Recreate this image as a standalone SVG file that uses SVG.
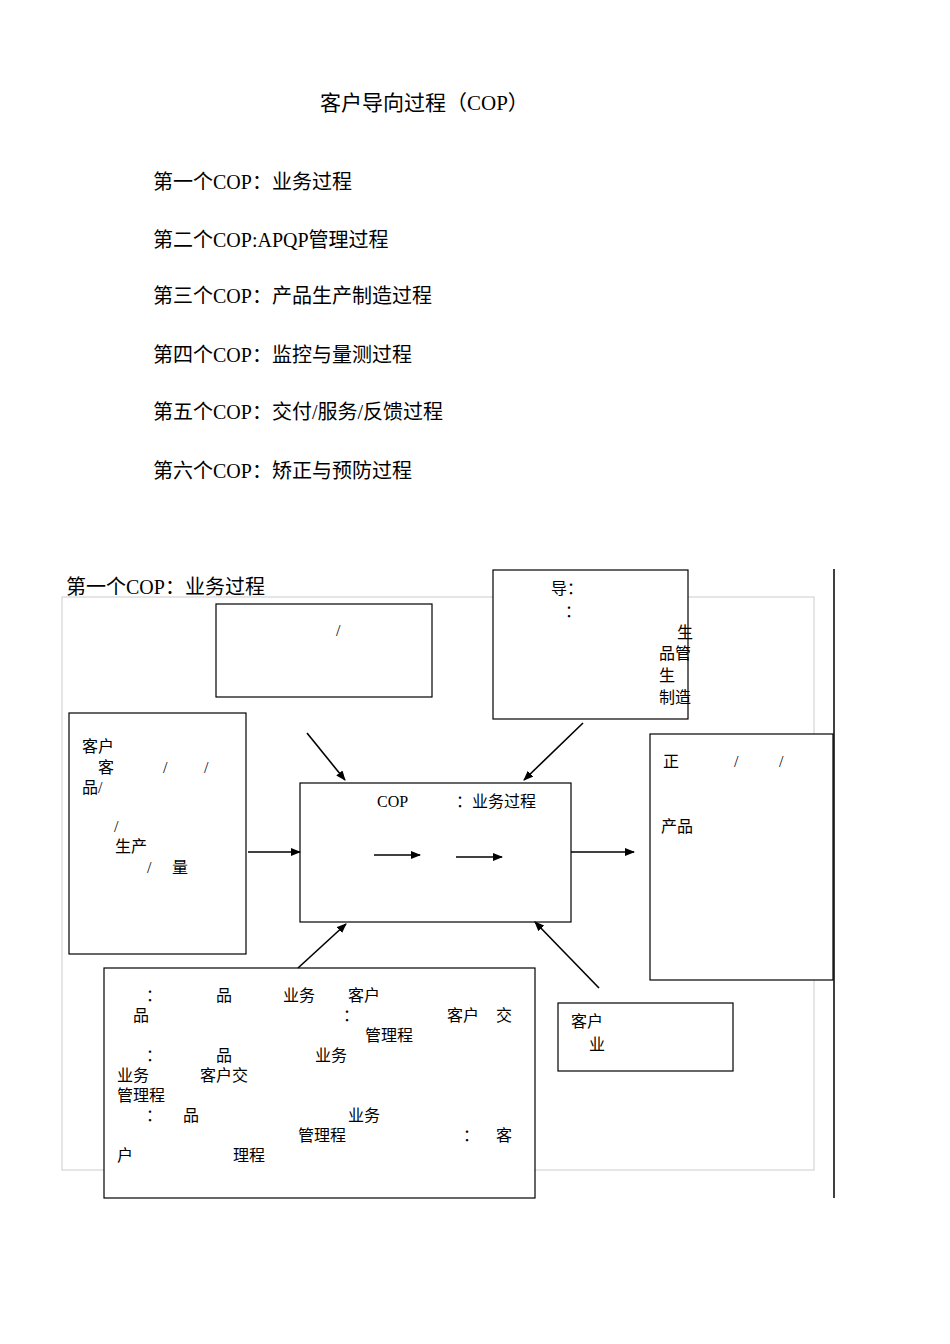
<svg xmlns="http://www.w3.org/2000/svg" width="950" height="1344" viewBox="0 0 950 1344">
<style>
text{font-family:"Liberation Serif","Noto Sans CJK SC",serif;fill:#000}
.h{font-size:20px}
.t{font-size:16px}
.b{fill:#fff;stroke:#000;stroke-width:1.2}
.c line{stroke:#000;stroke-width:1.6}
</style>
<defs><marker id="a" markerWidth="10" markerHeight="8" refX="9" refY="4" orient="auto" markerUnits="userSpaceOnUse"><path d="M0,0L10,4L0,8z"/></marker></defs>
<rect width="950" height="1344" fill="#fff"/>
<text class="h" x="320" y="110" style="font-size:21px">客户导向过程（COP）</text>
<text class="h" x="153" y="189">第一个COP：业务过程</text>
<text class="h" x="153" y="247">第二个COP:APQP管理过程</text>
<text class="h" x="153" y="303">第三个COP：产品生产制造过程</text>
<text class="h" x="153" y="362">第四个COP：监控与量测过程</text>
<text class="h" x="153" y="419">第五个COP：交付/服务/反馈过程</text>
<text class="h" x="153" y="478">第六个COP：矫正与预防过程</text>
<rect x="62" y="597" width="752" height="573" fill="none" stroke="#ccc"/>
<line x1="834" y1="569" x2="834" y2="1198" stroke="#000" stroke-width="1.5"/>
<text class="h" x="66" y="594">第一个COP：业务过程</text>
<g id="n1"><rect class="b" x="216" y="604" width="216" height="93"/><text class="t" x="336" y="636">/</text></g>
<g id="n2"><rect class="b" x="493" y="570" width="195" height="149"/>
<text class="t" x="551" y="594">导：</text><text class="t" x="565" y="617">：</text>
<text class="t" x="677" y="638">生</text><text class="t" x="659" y="659">品管</text><text class="t" x="659" y="681">生</text><text class="t" x="659" y="703">制造</text></g>
<g id="n3"><rect class="b" x="69" y="713" width="177" height="241"/>
<text class="t" x="82" y="752">客户</text><text class="t" x="98" y="773">客</text><text class="t" x="163" y="773">/</text><text class="t" x="204" y="773">/</text>
<text class="t" x="82" y="793">品/</text><text class="t" x="114" y="832">/</text><text class="t" x="115" y="852">生产</text><text class="t" x="147" y="873">/</text><text class="t" x="172" y="873">量</text></g>
<g id="n4"><rect class="b" x="300" y="783" width="271" height="139"/>
<text class="t" x="377" y="807">COP</text><text class="t" x="456" y="807">：业务过程</text></g>
<g id="n5"><rect class="b" x="650" y="734" width="183" height="246"/>
<text class="t" x="663" y="767">正</text><text class="t" x="734" y="767">/</text><text class="t" x="779" y="767">/</text><text class="t" x="661" y="832">产品</text></g>
<g id="n6"><rect class="b" x="104" y="968" width="431" height="230"/>
<g class="t">
<text class="t" x="146" y="1001">：</text><text class="t" x="216" y="1001">品</text><text class="t" x="283" y="1001">业务</text><text class="t" x="348" y="1001">客户</text>
<text class="t" x="133" y="1021">品</text><text class="t" x="343" y="1021">：</text><text class="t" x="447" y="1021">客户</text><text class="t" x="496" y="1021">交</text>
<text class="t" x="365" y="1041">管理程</text>
<text class="t" x="146" y="1061">：</text><text class="t" x="216" y="1061">品</text><text class="t" x="315" y="1061">业务</text>
<text class="t" x="117" y="1081">业务</text><text class="t" x="200" y="1081">客户交</text>
<text class="t" x="117" y="1101">管理程</text>
<text class="t" x="146" y="1121">：</text><text class="t" x="183" y="1121">品</text><text class="t" x="348" y="1121">业务</text>
<text class="t" x="298" y="1141">管理程</text><text class="t" x="463" y="1141">：</text><text class="t" x="496" y="1141">客</text>
<text class="t" x="117" y="1161">户</text><text class="t" x="233" y="1161">理程</text></g></g>
<g id="n7"><rect class="b" x="558" y="1003" width="175" height="68"/>
<text class="t" x="571" y="1027">客户</text><text class="t" x="589" y="1050">业</text></g>
<g id="connectors" class="c">
<line x1="307" y1="733" x2="345" y2="780" marker-end="url(#a)"/>
<line x1="583" y1="723" x2="524" y2="780" marker-end="url(#a)"/>
<line x1="248" y1="852" x2="300" y2="852" marker-end="url(#a)"/>
<line x1="571" y1="852" x2="634" y2="852" marker-end="url(#a)"/>
<line x1="298" y1="968" x2="346" y2="924" marker-end="url(#a)"/>
<line x1="599" y1="988" x2="535" y2="922" marker-end="url(#a)"/>
<line x1="374" y1="855" x2="420" y2="855" marker-end="url(#a)"/>
<line x1="456" y1="857" x2="502" y2="857" marker-end="url(#a)"/>
</g>
</svg>
